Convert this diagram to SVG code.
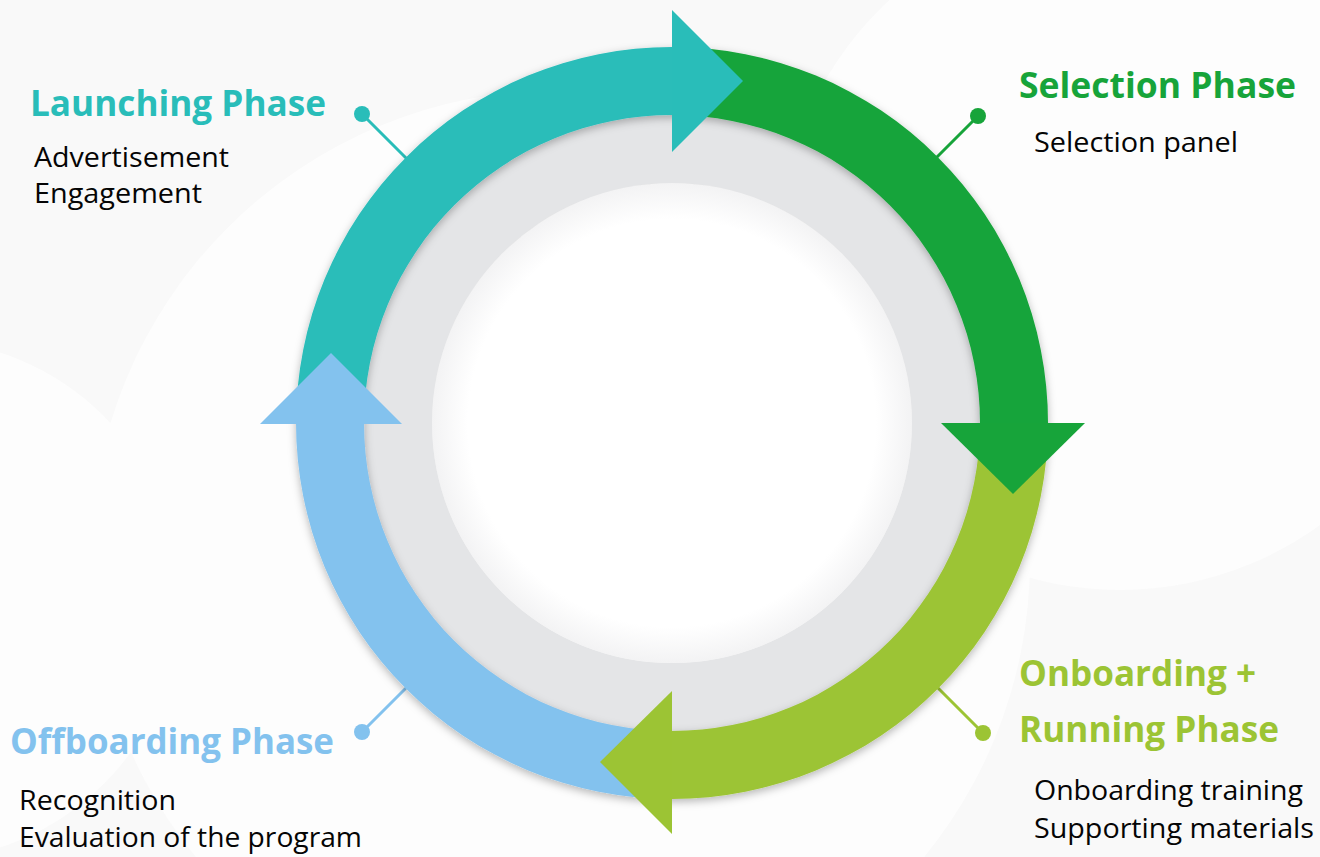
<svg xmlns="http://www.w3.org/2000/svg" width="1320" height="857" viewBox="0 0 1320 857">
  <defs>
    <filter id="sh" x="-20%" y="-20%" width="140%" height="140%">
      <feDropShadow dx="0" dy="3" stdDeviation="4" flood-color="#000" flood-opacity="0.28"/>
    </filter>
    <radialGradient id="inner" cx="50%" cy="50%" r="50%">
      <stop offset="0.85" stop-color="#ffffff"/>
      <stop offset="1" stop-color="#f3f3f4"/>
    </radialGradient>
    <style>
      .h { font-family: "Open Sans", "Liberation Sans", sans-serif; font-weight: 700; font-size: 36px; }
      .b { font-family: "Open Sans", "Liberation Sans", sans-serif; font-weight: 400; font-size: 28px; fill: #050505; }
      .teal { fill: #29bdb9; }
      .green { fill: #17a43a; }
      .lime { fill: #9cc434; }
      .blue { fill: #83c2ee; }
    </style>
  </defs>

  <!-- background -->
  <rect x="0" y="0" width="1320" height="857" fill="#f9f9f9"/>
  <g fill="#ffffff" opacity="0.7">
    <circle cx="560" cy="560" r="470"/>
    <circle cx="1120" cy="250" r="340"/>
    <circle cx="-80" cy="600" r="260"/>
  </g>

  <!-- connectors (behind ring) -->
  <g id="connectors" stroke-width="3" fill="none">
    <line x1="362" y1="114" x2="420" y2="172" stroke="#29bdb9"/>
    <circle cx="362" cy="114" r="8" fill="#29bdb9" stroke="none"/>
    <line x1="978" y1="116" x2="924" y2="170" stroke="#17a43a"/>
    <circle cx="978" cy="116" r="8" fill="#17a43a" stroke="none"/>
    <line x1="983" y1="733" x2="924" y2="674" stroke="#9cc434"/>
    <circle cx="983" cy="733" r="8" fill="#9cc434" stroke="none"/>
    <line x1="362" y1="732" x2="420" y2="674" stroke="#83c2ee"/>
    <circle cx="362" cy="732" r="8" fill="#83c2ee" stroke="none"/>
  </g>

  <!-- ring base -->
  <g id="ring">
    <circle cx="672" cy="423" r="278" fill="none" stroke="#e4e5e7" stroke-width="76" filter="url(#sh)"/>
    <circle cx="672" cy="423" r="240" fill="url(#inner)"/>
  </g>

  <!-- arc bodies -->
  <g id="bodies" filter="url(#sh)">
    <path class="teal" d="M 296 423 A 376 376 0 0 1 672 47 L 672 115 A 308 308 0 0 0 364 423 Z"/>
    <path class="green" d="M 672 47 A 376 376 0 0 1 1048 423 L 980 423 A 308 308 0 0 0 672 115 Z"/>
    <path class="lime" d="M 1048 423 A 376 376 0 0 1 672 799 L 672 731 A 308 308 0 0 0 980 423 Z"/>
    <path class="blue" d="M 672 799 A 376 376 0 0 1 296 423 L 364 423 A 308 308 0 0 0 672 731 Z"/>
  </g>

  <!-- arrow heads -->
  <g id="heads">
    <path class="teal" d="M 672 10 L 743 81 L 672 152 Z"/>
    <path class="green" d="M 941 423 L 1085 423 L 1013 494 Z"/>
    <path class="lime" d="M 672 691 L 672 834 L 600 762 Z"/>
    <path class="blue" d="M 260 424 L 402 424 L 331 353 Z"/>
  </g>

  <!-- labels -->
  <g id="launching">
    <text class="h teal" x="30" y="116" textLength="296" lengthAdjust="spacingAndGlyphs">Launching Phase</text>
    <text class="b" x="34" y="167" textLength="195" lengthAdjust="spacingAndGlyphs">Advertisement</text>
    <text class="b" x="34" y="203" textLength="168" lengthAdjust="spacingAndGlyphs">Engagement</text>
  </g>
  <g id="selection">
    <text class="h green" x="1019" y="98" textLength="277" lengthAdjust="spacingAndGlyphs">Selection Phase</text>
    <text class="b" x="1034" y="152" textLength="204" lengthAdjust="spacingAndGlyphs">Selection panel</text>
  </g>
  <g id="onboarding">
    <text class="h lime" x="1019" y="686" textLength="237" lengthAdjust="spacingAndGlyphs">Onboarding +</text>
    <text class="h lime" x="1019" y="742" textLength="260" lengthAdjust="spacingAndGlyphs">Running Phase</text>
    <text class="b" x="1034" y="800" textLength="269" lengthAdjust="spacingAndGlyphs">Onboarding training</text>
    <text class="b" x="1034" y="838" textLength="280" lengthAdjust="spacingAndGlyphs">Supporting materials</text>
  </g>
  <g id="offboarding">
    <text class="h blue" x="10" y="754" textLength="324" lengthAdjust="spacingAndGlyphs">Offboarding Phase</text>
    <text class="b" x="19" y="810" textLength="157" lengthAdjust="spacingAndGlyphs">Recognition</text>
    <text class="b" x="19" y="847" textLength="343" lengthAdjust="spacingAndGlyphs">Evaluation of the program</text>
  </g>
</svg>
